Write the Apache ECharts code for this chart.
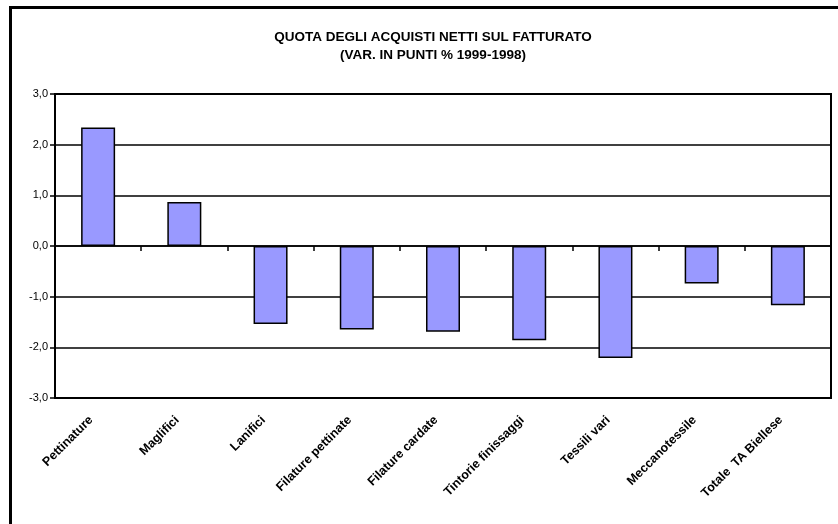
<!DOCTYPE html>
<html>
<head>
<meta charset="utf-8">
<script src="https://cdn.jsdelivr.net/npm/echarts@6/dist/echarts.min.js"></script>
<style>
  html, body { margin: 0; padding: 0; background: #fff; }
  #main { width: 838px; height: 524px; }
</style>
</head>
<body>
<div id="main"></div>
<script>
// settori
var categories = [
  'Pettinature', 'Maglifici', 'Lanifici', 'Filature pettinate',
  'Filature cardate', 'Tintorie finissaggi', 'Tessili vari',
  'Meccanotessile', 'Totale  TA Biellese'
];
// var. in punti % 1999-1998
var values = [2.34, 0.87, -1.54, -1.65, -1.69, -1.86, -2.21, -0.74, -1.17];
var yTicks = [-3, -2, -1, 0, 1, 2, 3];

var myChart = echarts.init(document.getElementById('main'));

var option = {
  animation: false,
  backgroundColor: '#fff',
  title: {
    text: 'QUOTA DEGLI ACQUISTI NETTI SUL FATTURATO\n(VAR. IN PUNTI % 1999-1998)',
    left: 428,
    top: 23,
    textAlign: 'center',
    textStyle: {
      fontFamily: 'Liberation Sans, Arial',
      fontSize: 13.5,
      fontWeight: 'bold',
      color: '#000',
      lineHeight: 18
    }
  },
  graphic: [{
    type: 'polyline',
    shape: { points: [[10.5, 600], [10.5, 7.5], [900, 7.5]] },
    style: { stroke: '#000', lineWidth: 3, fill: null }
  }],
  grid: {
    left: 55, right: 7, top: 94, bottom: 126,
    show: true, borderColor: '#000', borderWidth: 2, backgroundColor: '#fff'
  },
  xAxis: [{
    // asse sullo zero: linea e tacche
    type: 'category',
    data: categories,
    position: 'bottom',
    axisLine: { onZero: true, lineStyle: { color: '#000', width: 1.5 } },
    axisTick: { show: true, interval: 0, length: 5, lineStyle: { color: '#000', width: 1.5 } },
    axisLabel: { show: false }
  }, {
    // asse in basso: solo etichette
    type: 'category',
    data: categories,
    position: 'bottom',
    axisLine: { onZero: false, lineStyle: { color: '#000', width: 2 } },
    axisTick: { show: false },
    axisLabel: {
      rotate: 45,
      margin: 13,
      interval: 0,
      padding: [0, 10, 0, 0],
      fontFamily: 'Liberation Sans, Arial',
      fontSize: 12.5,
      fontWeight: 'bold',
      color: '#000'
    }
  }],
  yAxis: {
    type: 'value',
    min: yTicks[0],
    max: yTicks[yTicks.length - 1],
    interval: 1,
    axisLine: { show: true, lineStyle: { color: '#000', width: 2 } },
    axisTick: { show: true, length: 5, lineStyle: { color: '#000', width: 1.5 } },
    splitLine: { show: true, lineStyle: { color: '#000', width: 1.5 } },
    axisLabel: {
      margin: 7,
      fontFamily: 'Liberation Sans, Arial',
      fontSize: 11,
      color: '#000',
      formatter: function (v) { return v.toFixed(1).replace('.', ','); }
    }
  },
  series: [{
    type: 'bar',
    data: values,
    xAxisIndex: 0,
    barWidth: 34,
    itemStyle: { color: '#9999FF', borderColor: '#000', borderWidth: 1.5 }
  }]
};

myChart.setOption(option);
</script>
</body>
</html>
